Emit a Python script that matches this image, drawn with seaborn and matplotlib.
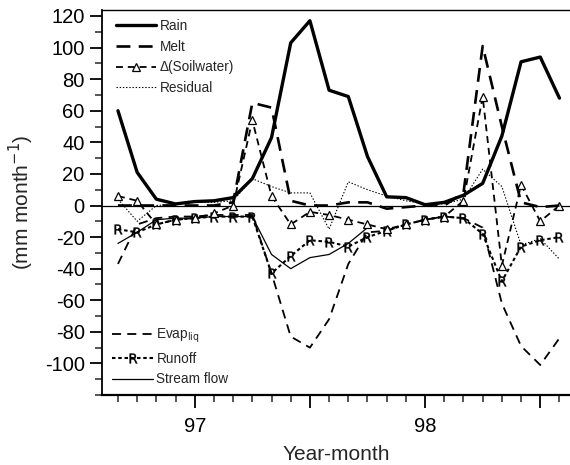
import numpy as np
import pandas as pd
import matplotlib
matplotlib.use("Agg")
import matplotlib.pyplot as plt
import seaborn as sns
from matplotlib.lines import Line2D

sns.set_style("ticks")
plt.rcParams["font.family"] = ["Liberation Sans", "DejaVu Sans"]
plt.rcParams["axes.unicode_minus"] = False
plt.rcParams["lines.scale_dashes"] = False

# Monthly water balance terms, Sep 1996 - Aug 1998 (mm per month)
months = ["1996-09", "1996-10", "1996-11", "1996-12",
          "1997-01", "1997-02", "1997-03", "1997-04", "1997-05", "1997-06",
          "1997-07", "1997-08", "1997-09", "1997-10", "1997-11", "1997-12",
          "1998-01", "1998-02", "1998-03", "1998-04", "1998-05", "1998-06",
          "1998-07", "1998-08"]
rain = [60, 21, 4, 1, 2.5, 3, 5, 17, 43, 103, 117, 73, 69, 31, 5.5, 5,
        0.5, 2, 6.5, 14, 44, 91, 94, 68]
melt = [0, 0, 0, 0, 0, 0, 2, 65, 62, 3, 0, 0, 2, 2, -2, -1,
        0, 0, 8, 101, 50, 2, -1, 0]
soilwater = [6, 3, -12, -9, -8, -5, 0, 54, 6, -12, -4, -6, -9, -12, -15, -12,
             -9, -7, 3, 69, -38, 13, -10, 0]
residual = [4, -10, 0, 1, 2, 2, 3, 17, 12, 8, 8, -15, 15, 10, 6, 3,
            1, 1, 4, 23, 12, -25, -21, -34]
evap_liq = [-37, -12, -8, -7, -7, -6, -6, -6, -43, -83, -90, -72, -37, -17, -16, -12,
            -9, -7, -8, -14, -62, -89, -101, -84]
runoff = [-15, -17, -12, -9, -8, -7, -7, -7, -43, -32, -22, -23, -26, -20, -16, -12,
          -9, -7, -8, -18, -48, -26, -22, -20]
stream_flow = [-24, -17, -9, -8, -8, -7, -7, -7, -31, -40, -33, -31, -24, -14,
               np.nan, np.nan, np.nan, np.nan, np.nan, np.nan, np.nan, np.nan,
               np.nan, np.nan]

half_year_months = ["1997-01", "1997-07", "1998-01", "1998-07"]
half_year_labels = ["97", "", "98", ""]

df = pd.DataFrame({
    "month": months, "Rain": rain, "Melt": melt, "Soilwater": soilwater,
    "Residual": residual, "Evap": evap_liq, "Runoff": runoff,
    "Stream": stream_flow,
})
df["t"] = np.arange(len(df))
pos = dict(zip(df["month"], df["t"]))

fig = plt.figure(figsize=(5.7, 4.65), dpi=100)
ax = fig.add_axes([0.179, 0.1505, 0.821, 0.828])

K = "black"
styles = {
    "Rain": dict(lw=2.4, linestyle="-"),
    "Melt": dict(lw=1.9, linestyle=(0, (10, 6))),
    "Soilwater": dict(lw=1.3, linestyle=(0, (5, 3.5)), marker="^", markersize=5.5,
                      markerfacecolor="white", markeredgecolor=K, markeredgewidth=0.9),
    "Residual": dict(lw=0.8, linestyle=(0, (1, 1.3))),
    "Evap": dict(lw=1.3, linestyle=(0, (6.5, 4.5))),
    "Runoff": dict(lw=1.5, linestyle=(0, (2.5, 2)), marker=r"$\mathrm{R}$",
                   markersize=7, markeredgewidth=0.3,
                   markerfacecolor=K, markeredgecolor=K),
    "Stream": dict(lw=0.9, linestyle="-"),
}

ax.axhline(0, color=K, lw=0.9, zorder=1)
for col in ["Stream", "Evap", "Runoff", "Residual", "Soilwater", "Melt", "Rain"]:
    sub = df[["t", col]].dropna()
    sns.lineplot(data=sub, x="t", y=col, ax=ax, color=K, legend=False,
                 **styles[col])

ax.set_xlim(-0.83, 23.55)
ax.set_ylim(-120, 123.8)

ax.set_xticks([pos[m] for m in half_year_months])
ax.set_xticklabels(half_year_labels)
ax.set_xticks(df["t"], minor=True)
ax.set_yticks(np.arange(-100, 121, 20))
ax.set_yticks(np.arange(-120, 121, 10), minor=True)
ax.tick_params(axis="both", which="major", direction="out", length=9, width=1.3,
               labelsize=14.5, colors=K)
ax.tick_params(axis="both", which="minor", direction="out", length=5, width=1.1)
ax.tick_params(axis="x", which="major", pad=7)

for s in ["left", "bottom", "top"]:
    ax.spines[s].set_color(K)
ax.spines["left"].set_linewidth(1.3)
ax.spines["bottom"].set_linewidth(1.6)
ax.spines["top"].set_linewidth(1.0)
ax.spines["right"].set_visible(False)

ax.set_xlabel("Year-month", fontsize=15, labelpad=6)
ax.set_ylabel("(mm month$^{-1}$)", fontsize=15, labelpad=6)

def handle(col):
    st = dict(styles[col])
    lw = st.pop("lw")
    return Line2D([], [], color=K, lw=lw, **st)

top = ax.legend([handle(c) for c in ["Rain", "Melt", "Soilwater", "Residual"]],
                ["Rain", "Melt", "\u0394(Soilwater)", "Residual"],
                loc="upper left", frameon=False, fontsize=9.8, handlelength=3.0,
                handletextpad=0.25, labelspacing=0.5, borderaxespad=0.25,
                bbox_to_anchor=(0.01, 1.0))
ax.add_artist(top)
ax.legend([handle(c) for c in ["Evap", "Runoff", "Stream"]],
          ["Evap$_{\\mathrm{liq}}$", "Runoff", "Stream flow"],
          loc="lower left", frameon=False, fontsize=9.8, handlelength=3.0,
          handletextpad=0.25, labelspacing=0.5, borderaxespad=0.0,
          bbox_to_anchor=(0.01, 0.008))

fig.savefig("out.png", dpi=100)
